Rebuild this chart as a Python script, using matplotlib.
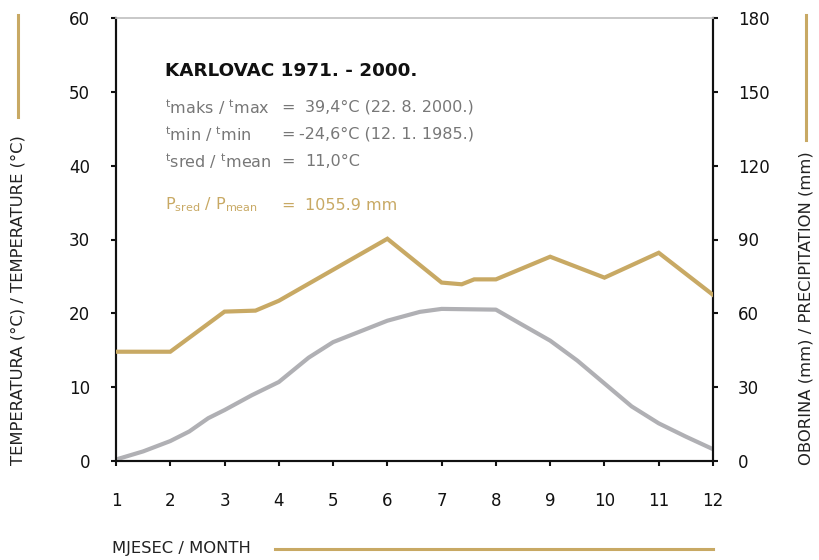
import matplotlib
matplotlib.use("Agg")
import matplotlib.pyplot as plt
from matplotlib.lines import Line2D

plt.rcParams['font.family'] = ['DejaVu Sans']
plt.rcParams['mathtext.fontset'] = 'dejavusans'

GOLD = "#c8a964"
GREY = "#b0b0b4"
TXT = "#777777"

# --- data ---
months = list(range(1, 13))
temp_x = [1, 1.5, 2, 2.35, 2.7, 3, 3.5, 4, 4.55, 5, 6, 6.6, 7, 8, 8.45, 9, 9.5, 10, 10.5, 11, 11.5, 12]
temp_y = [0.2, 1.3, 2.7, 4.0, 5.8, 6.9, 8.9, 10.7, 14.0, 16.1, 19.0, 20.2, 20.6, 20.5,
          18.6, 16.3, 13.6, 10.5, 7.4, 5.1, 3.3, 1.6]
prec_x = [1, 2, 3, 3.57, 4, 5, 6, 7, 7.37, 7.6, 8, 9, 10, 11, 12]
prec_y = [44.4, 44.4, 60.7, 61.1, 65.1, 77.7, 90.3, 72.5, 71.8, 73.8, 73.8, 83.0, 74.5, 84.6, 67.5]
temp_ticks = [0, 10, 20, 30, 40, 50, 60]
prec_ticks = [0, 30, 60, 90, 120, 150, 180]

W, H = 819, 560
fig = plt.figure(figsize=(W / 100, H / 100), dpi=100)
ax = fig.add_axes([116 / W, 1 - 461 / H, (713 - 116) / W, (461 - 18) / H])
ax2 = ax.twinx()

ax.plot(temp_x, temp_y, color=GREY, lw=3, solid_joinstyle='round', zorder=3)
ax2.plot(prec_x, prec_y, color=GOLD, lw=3, solid_joinstyle='miter', zorder=3)

ax.set_xlim(1, 12)
ax.set_ylim(0, 60)
ax2.set_ylim(0, 180)
ax.set_xticks(months)
ax.set_yticks(temp_ticks)
ax2.set_yticks(prec_ticks)

for a in (ax, ax2):
    for s in a.spines.values():
        s.set_linewidth(1.5)
        s.set_color("#111111")
    a.spines['top'].set_color("#c8c8c8")
    a.spines['top'].set_linewidth(1.2)
tk = dict(direction='out', length=3.6, width=1.5, labelsize=12, colors="#111111")
ax.tick_params(axis='x', pad=19, **tk)
ax.tick_params(axis='y', pad=15, **tk)
ax2.tick_params(axis='y', pad=14.5, **tk)

def fx(x):
    return x / W

def fy(y):
    return 1 - y / H

# title and statistics
fig.text(fx(165), fy(71), "KARLOVAC 1971. - 2000.", fontsize=13.2, fontweight='bold',
         color="#111111", va='center')
rows = [
    (r"$^{\mathregular{t}}$maks / $^{\mathregular{t}}$max", "39,4°C (22. 8. 2000.)", 305, 107),
    (r"$^{\mathregular{t}}$min / $^{\mathregular{t}}$min", "-24,6°C (12. 1. 1985.)", 299, 134),
    (r"$^{\mathregular{t}}$sred / $^{\mathregular{t}}$mean", "11,0°C", 305, 161),
]
for lab, val, vx, y in rows:
    fig.text(fx(165), fy(y), lab, fontsize=11.5, color=TXT, va='center')
    fig.text(fx(288), fy(y), "=", fontsize=11.5, color=TXT, va='center', ha='center')
    fig.text(fx(vx), fy(y), val, fontsize=11.5, color=TXT, va='center')
fig.text(fx(165), fy(205), r"P$_{\mathregular{sred}}$ / P$_{\mathregular{mean}}$",
         fontsize=11.5, color=GOLD, va='center')
fig.text(fx(288), fy(205), "=", fontsize=11.5, color=GOLD, va='center', ha='center')
fig.text(fx(305), fy(205), "1055.9 mm", fontsize=11.5, color=GOLD, va='center')

# axis titles with gold rules
fig.text(fx(18), fy(465), "TEMPERATURA (°C) / TEMPERATURE (°C)", rotation=90,
         fontsize=11.8, color="#222222", ha='center', va='bottom')
fig.add_artist(Line2D([fx(18), fx(18)], [fy(15), fy(117)], color=GOLD, lw=2.2))
fig.text(fx(806), fy(465), "OBORINA (mm) / PRECIPITATION (mm)", rotation=90,
         fontsize=11.8, color="#222222", ha='center', va='bottom')
fig.add_artist(Line2D([fx(806), fx(806)], [fy(15), fy(140)], color=GOLD, lw=2.2))
fig.text(fx(112), fy(549), "MJESEC / MONTH", fontsize=11.8, color="#222222", va='center')
fig.add_artist(Line2D([fx(275), fx(713)], [fy(549), fy(549)], color=GOLD, lw=2.2))

fig.savefig("out.png", dpi=100)
